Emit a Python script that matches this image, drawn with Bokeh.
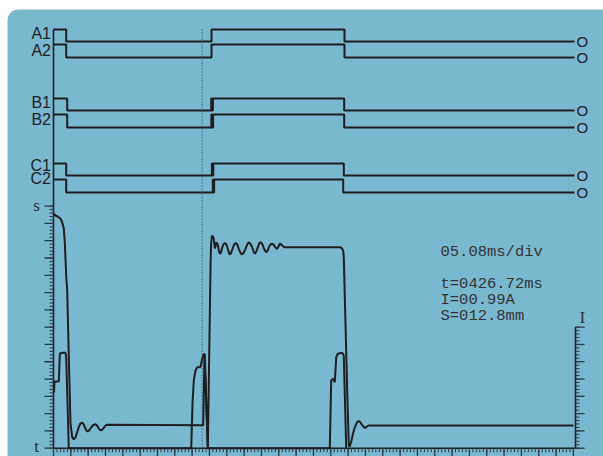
import numpy as np
from bokeh.plotting import figure
from bokeh.models import Range1d
from bokeh.core.properties import value
from bokeh.embed import file_html
from bokeh.resources import INLINE

# ---------------- data (grid divisions) ----------------
time_label = "05.08ms/div"
readout = ["t=0426.72ms", "I=00.99A", "S=012.8mm"]
cursor_div = 8.58

channel_names = ["A1", "A2", "B1", "B2", "C1", "C2"]
A1_times = [0, 0.733, 9.117, 16.792, 30.064]
A1_states = [1, 0, 1, 0]
A2_times = [0, 0.733, 9.117, 16.792, 30.064]
A2_states = [1, 0, 1, 0]
B1_times = [0, 0.791, 9.10, 9.15, 9.20, 16.774, 30.064]
B1_states = [1, 0, 1, 0, 1, 0]
B2_times = [0, 0.791, 9.11, 9.16, 9.21, 16.774, 30.064]
B2_states = [1, 0, 1, 0, 1, 0]
C1_times = [0, 0.733, 9.14, 9.18, 9.22, 16.751, 30.064]
C1_states = [1, 0, 1, 0, 1, 0]
C2_times = [0, 0.733, 9.19, 9.23, 9.27, 16.717, 30.064]
C2_states = [1, 0, 1, 0, 1, 0]

# travel S (divisions)
s_t = [0.017, 0.115, 0.231, 0.404, 0.502, 0.594, 0.652, 0.733, 0.791, 0.883, 0.981,
       1.079, 1.171, 1.269, 1.368, 1.460, 1.558, 1.656, 1.731, 1.806, 1.893, 1.979,
       2.077, 2.175, 2.297, 2.424, 2.510, 2.597, 2.683, 2.770, 2.839, 2.902, 3.001,
       3.116, 8.638, 8.713, 8.904, 9.059, 9.088, 9.135, 9.192, 9.244, 9.279, 9.313,
       9.348, 9.394, 9.440, 9.492, 9.544, 9.602, 9.660, 9.723, 9.798, 9.885, 9.960,
       10.029, 10.098, 10.173, 10.248, 10.329, 10.421, 10.519, 10.606, 10.692, 10.791,
       10.889, 10.981, 11.079, 11.177, 11.269, 11.367, 11.466, 11.541, 11.616, 11.702,
       11.789, 11.870, 11.945, 12.043, 12.135, 12.216, 12.291, 12.372, 12.447, 12.533,
       12.620, 12.695, 12.770, 12.839, 12.908, 12.983, 13.058, 13.128, 13.197, 13.330,
       16.520, 16.647, 16.711, 16.751, 16.849, 16.947, 17.040, 17.097, 17.166, 17.253,
       17.328, 17.426, 17.530, 17.617, 17.715, 17.802, 17.905, 18.003, 18.090, 18.194,
       30.006]
s_v = [13.557, 13.459, 13.401, 13.268, 13.071, 12.707, 11.914, 9.988, 9.121, 5.263, 1.429,
       0.636, 0.515, 0.636, 0.937, 1.226, 1.429, 1.475, 1.400, 1.226, 1.024, 0.966,
       1.053, 1.197, 1.342, 1.382, 1.313, 1.168, 1.053, 1.035, 1.110, 1.180, 1.313,
       1.353, 1.330, 5.448, 0.029, 10.376, 11.724, 12.244, 12.273, 12.100, 11.839, 11.550,
       11.666, 11.897, 11.868, 11.724, 11.434, 11.243, 11.319, 11.550, 11.781, 11.868, 11.810,
       11.637, 11.377, 11.203, 11.290, 11.521, 11.781, 11.868, 11.781, 11.533, 11.290,
       11.203, 11.319, 11.533, 11.781, 11.914, 11.810, 11.625, 11.377, 11.243, 11.377,
       11.625, 11.839, 11.914, 11.810, 11.590, 11.405, 11.336, 11.463, 11.666, 11.793,
       11.822, 11.770, 11.666, 11.562, 11.533, 11.666, 11.822, 11.793, 11.724, 11.625,
       11.625, 11.562, 11.434, 11.047, 7.212, 3.337, 0.156, 0.098, 0.330, 0.706,
       1.024, 1.313, 1.515, 1.573, 1.486, 1.342, 1.226, 1.180, 1.255, 1.313,
       1.313]

# coil current I (divisions)
i_t = [0.029, 0.058, 0.306, 0.364, 0.502, 0.692, 0.733, 0.883, 7.946, 8.021, 8.096,
       8.194, 8.292, 8.482, 8.580, 8.673, 8.730, 8.904, 15.944, 16.024, 16.140, 16.232,
       16.313, 16.405, 16.659, 16.751, 16.890]
i_v = [3.222, 3.858, 3.858, 5.460, 5.518, 5.518, 5.263, 0.0, 0.0, 2.585, 3.916,
       4.494, 4.685, 4.696, 5.171, 5.460, 5.419, 0.0, 0.0, 3.916, 4.014, 3.817,
       5.263, 5.460, 5.518, 5.361, 0.0]

x_major = list(range(0, 31))
s_major = list(range(0, 15))
i_major = list(range(0, 8))

# ---------------- layout calibration (pixels) ----------------
W, H = 603, 456
X0, DX = 53.0, 17.33
Y0, DY = 447.7, 17.29


def dx(px):
    return (px - X0) / DX


def vy(py):
    return (Y0 - py) / DY


BLUE = "#79b9d0"
INK = "#1e1e1e"
TICK = "#2a3a44"

p = figure(width=W, height=H,
           x_range=Range1d(dx(0), dx(W)),
           y_range=Range1d(vy(H), vy(0)),
           x_axis_type=None, y_axis_type=None,
           output_backend="svg", toolbar_location=None,
           min_border=0, background_fill_color="white",
           border_fill_color="white", outline_line_color=None)

# panel
p.quad(left=[dx(7)], right=[dx(640)], top=[vy(9)], bottom=[vy(490)],
       fill_color=BLUE, line_color=None, border_radius=11)

# digital channels
levels = {"A1": (29, 41), "A2": (44, 57), "B1": (98, 110),
          "B2": (114, 127), "C1": (163, 175), "C2": (179, 192)}
chan = {"A1": (A1_times, A1_states), "A2": (A2_times, A2_states),
        "B1": (B1_times, B1_states), "B2": (B2_times, B2_states),
        "C1": (C1_times, C1_states), "C2": (C2_times, C2_states)}
label_y = {"A1": 33, "A2": 50, "B1": 102, "B2": 119, "C1": 165, "C2": 178}
o_x, o_y, lab_x, lab_yv = [], [], [], []
for name in channel_names:
    times, states = chan[name]
    hi, lo = levels[name]
    xs, ys = [], []
    for k, st in enumerate(states):
        lv = vy(hi) if st else vy(lo)
        xs += [times[k], times[k + 1]]
        ys += [lv, lv]
    p.line(xs, ys, line_color=INK, line_width=2)
    o_x.append(times[-1] + 0.45)
    o_y.append(vy(lo))
    lab_x.append(dx(50.5))
    lab_yv.append(vy(label_y[name]))

p.text(x=o_x, y=o_y, text=["O"] * 6, text_align="center", text_baseline="middle",
       text_font=value("Liberation Sans"), text_font_size="15px", text_color=INK)
p.text(x=lab_x, y=lab_yv, text=channel_names, text_align="right", text_baseline="middle",
       text_font=value("Liberation Sans"), text_font_size="16px", text_color=INK)

# axes
x_right = dx(575)
p.line([0, 0], [vy(29), 0], line_color=INK, line_width=1.6)
p.line([0, x_right], [0, 0], line_color=INK, line_width=1.6)
p.line([x_right, x_right], [0, i_major[-1]], line_color=INK, line_width=1.6)

x_minor = np.arange(0, x_major[-1] + 1e-6, 0.2)
s_minor = np.arange(0, s_major[-1] + 1e-6, 0.2)
i_minor = np.arange(0, i_major[-1] + 1e-6, 0.2)

p.segment(x0=x_minor, y0=0, x1=x_minor, y1=-4 / DY, line_color=TICK, line_width=1)
p.segment(x0=x_major, y0=0, x1=x_major, y1=-8 / DY, line_color=TICK, line_width=1.3)
p.segment(x0=0, y0=s_minor, x1=-4 / DX, y1=s_minor, line_color=TICK, line_width=1)
p.segment(x0=0, y0=s_major, x1=-9 / DX, y1=s_major, line_color=TICK, line_width=1.3)
p.segment(x0=x_right, y0=i_minor, x1=x_right + 4 / DX, y1=i_minor, line_color=TICK, line_width=1)
p.segment(x0=x_right, y0=i_major, x1=x_right + 9 / DX, y1=i_major, line_color=TICK, line_width=1.3)

p.text(x=[dx(36), dx(36)], y=[s_major[-1] + 0.05, vy(446)], text=["s", "t"],
       text_align="center", text_baseline="middle", text_font=value("Liberation Serif"),
       text_font_size="17px", text_color="#2a2a2a")
p.text(x=[dx(582)], y=[vy(316.5)], text=["I"], text_align="center", text_baseline="middle",
       text_font=value("Liberation Serif"), text_font_size="16px", text_color="#2a2a2a")

# cursor
p.line([cursor_div, cursor_div], [vy(29), vy(447)], line_color="#2b5870",
       line_width=1.3, line_dash="1 2")

# curves
p.line(s_t, s_v, line_color=INK, line_width=2)
p.line(i_t, i_v, line_color=INK, line_width=2)

# readout
p.text(x=[dx(440)], y=[vy(251.7)], text=[time_label], text_baseline="middle",
       text_font=value("Liberation Mono"), text_font_size="15.5px", text_color="#333333")
p.text(x=[dx(440)] * 3, y=[vy(283.3), vy(299), vy(315)], text=readout,
       text_baseline="middle", text_font=value("Liberation Mono"),
       text_font_size="15.5px", text_color="#333333")

open("out.html", "w").write(file_html(p, INLINE))
